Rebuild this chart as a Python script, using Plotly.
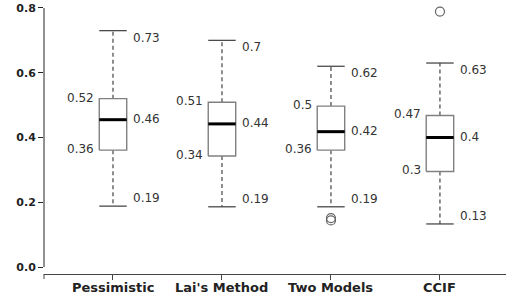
import plotly.graph_objects as go

categories = ["Pessimistic", "Lai's Method", "Two Models", "CCIF"]
upper_whisker = [0.73, 0.70, 0.62, 0.63]
q3 = [0.52, 0.509, 0.497, 0.468]
median = [0.455, 0.442, 0.418, 0.400]
q1 = [0.361, 0.343, 0.361, 0.295]
lower_whisker = [0.188, 0.186, 0.186, 0.133]
upper_labels = ["0.73", "0.7", "0.62", "0.63"]
q3_labels = ["0.52", "0.51", "0.5", "0.47"]
median_labels = ["0.46", "0.44", "0.42", "0.4"]
q1_labels = ["0.36", "0.34", "0.36", "0.3"]
lower_labels = ["0.19", "0.19", "0.19", "0.13"]
outlier_cat = [2, 2, 3]
outlier_val = [0.151, 0.144, 0.789]
y_ticks = [0.0, 0.2, 0.4, 0.6, 0.8]

HW = 0.126
FONT = "DejaVu Sans"
pos = list(range(len(categories)))

fig = go.Figure()

# whiskers (dashed)
wx, wy = [], []
for i in pos:
    wx += [i, i, None, i, i, None]
    wy += [q3[i], upper_whisker[i], None, q1[i], lower_whisker[i], None]
fig.add_trace(go.Scatter(x=wx, y=wy, mode="lines",
                         line=dict(color="#444444", width=1.2, dash="4px,3px"),
                         hoverinfo="skip", showlegend=False))

# caps
cx, cy = [], []
for i in pos:
    cx += [i - HW, i + HW, None, i - HW, i + HW, None]
    cy += [upper_whisker[i], upper_whisker[i], None, lower_whisker[i], lower_whisker[i], None]
fig.add_trace(go.Scatter(x=cx, y=cy, mode="lines",
                         line=dict(color="#4a4a4a", width=1.3),
                         hoverinfo="skip", showlegend=False))

# boxes
for i in pos:
    fig.add_trace(go.Scatter(
        x=[i - HW, i + HW, i + HW, i - HW, i - HW],
        y=[q1[i], q1[i], q3[i], q3[i], q1[i]],
        mode="lines", fill="toself", fillcolor="white",
        line=dict(color="#808080", width=1.4),
        hoverinfo="skip", showlegend=False))

# medians
mx, my = [], []
for i in pos:
    mx += [i - HW, i + HW, None]
    my += [median[i], median[i], None]
fig.add_trace(go.Scatter(x=mx, y=my, mode="lines",
                         line=dict(color="black", width=3),
                         hoverinfo="skip", showlegend=False))

# outliers
fig.add_trace(go.Scatter(x=outlier_cat, y=outlier_val, mode="markers",
                         marker=dict(symbol="circle-open", size=9, color="#666666",
                                     line=dict(width=1.2)),
                         hoverinfo="skip", showlegend=False))

ann = []
lab_font = dict(family=FONT, size=12, color="#333333")
for i in pos:
    ann.append(dict(x=i + HW, y=upper_whisker[i], text=upper_labels[i], xanchor="left",
                    yanchor="middle", xshift=4, yshift=-7, showarrow=False, font=lab_font))
    ann.append(dict(x=i + HW, y=lower_whisker[i], text=lower_labels[i], xanchor="left",
                    yanchor="middle", xshift=4, yshift=8, showarrow=False, font=lab_font))
    ann.append(dict(x=i + HW, y=median[i], text=median_labels[i], xanchor="left",
                    yanchor="middle", xshift=4, yshift=1, showarrow=False, font=lab_font))
    ann.append(dict(x=i - HW, y=q3[i], text=q3_labels[i], xanchor="right",
                    yanchor="middle", xshift=-3, yshift=1, showarrow=False, font=lab_font))
    ann.append(dict(x=i - HW, y=q1[i], text=q1_labels[i], xanchor="right",
                    yanchor="middle", xshift=-3, yshift=1, showarrow=False, font=lab_font))
    # category labels
    ann.append(dict(x=i, xref="x", y=0, yref="paper", text="<b>%s</b>" % categories[i],
                    xanchor="center", yanchor="top", yshift=-4, showarrow=False,
                    font=dict(family=FONT, size=13, color="#222222")))

shapes = [
    # y-axis line spanning tick range
    dict(type="line", xref="paper", yref="y", x0=0, x1=0, y0=y_ticks[0], y1=y_ticks[-1],
         line=dict(color="#222222", width=1)),
    # left-end tick of x-axis line
    dict(type="line", xref="paper", yref="paper", x0=0, x1=0, y0=0, y1=-0.0184,
         line=dict(color="#444444", width=1)),
]

fig.update_layout(
    width=506, height=300,
    margin=dict(l=44, r=0, t=2, b=26),
    paper_bgcolor="white", plot_bgcolor="white",
    annotations=ann, shapes=shapes,
    xaxis=dict(range=[-0.633, 3.606], tickvals=pos, showticklabels=False,
               automargin=False,
               showgrid=False, zeroline=False, showline=True, linecolor="#444444",
               linewidth=1, ticks="outside", ticklen=5, tickcolor="#444444"),
    yaxis=dict(range=[-0.0216, 0.8185], tickvals=y_ticks, tickformat=".1f",
               automargin=False,
               showgrid=False, zeroline=False, showline=False,
               ticks="outside", ticklen=5, tickcolor="#222222",
               tickfont=dict(family=FONT, size=11, color="#222222", weight="bold")),
)

fig.write_html("out.html", config={"displayModeBar": False},
               post_script="document.body.style.margin='0';document.body.style.overflow='hidden';")
